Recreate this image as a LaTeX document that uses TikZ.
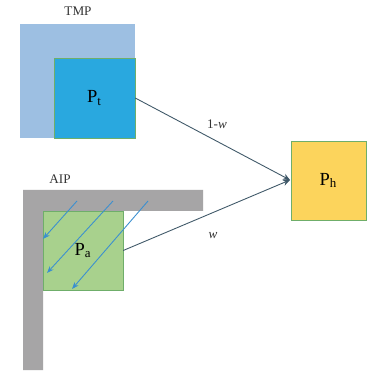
\documentclass[tikz,border=0pt]{standalone}
\usepackage{fontspec}
\setmainfont{Liberation Serif}
\usetikzlibrary{arrows.meta}
\definecolor{tmpblue}{HTML}{9DBFE2}
\definecolor{ptblue}{HTML}{29A8DF}
\definecolor{pagreen}{HTML}{A8D18D}
\definecolor{phyellow}{HTML}{FCD45C}
\definecolor{aipgray}{HTML}{A6A5A6}
\definecolor{arrblue}{HTML}{3A8FD0}
\definecolor{linec}{HTML}{3F5868}
\definecolor{edgegreen}{HTML}{6FAE6A}
\begin{document}
\begin{tikzpicture}[x=0.02cm,y=-0.02cm,
  lbl/.style={font=\fontsize{7.5}{9}\selectfont, text=black!80},
  plbl/.style={font=\fontsize{10.5}{12}\selectfont},
  box/.style={draw=edgegreen, line width=0.25pt, inner sep=0, plbl},
  conn/.style={draw=linec, line width=0.5pt},
  hatch/.style={draw=arrblue, line width=0.5pt, -{Stealth[length=4pt,width=3pt]}}]
\useasboundingbox (0,0) rectangle (366,374);
\fill[white] (0,0) rectangle (366,374);
% TMP
\fill[tmpblue] (20,24) rectangle (135,138);
\node[lbl] (tmp) at (78,11) {TMP};
\node[box, fill=ptblue, minimum width=81*0.02cm, minimum height=80*0.02cm] (pt) at (94.5,98) {P\textsubscript{t}};
% AIP
\fill[aipgray] (23,190) -- (203,190) -- (203,211) -- (43,211) -- (43,370) -- (23,370) -- cycle;
\node[lbl] (aip) at (60,179) {AIP};
\node[box, fill=pagreen, minimum width=80*0.02cm, minimum height=79*0.02cm] (pa) at (83,250.5) {P\textsubscript{a}};
\coordinate (h1s) at (77,201); \coordinate (h1e) at (43,239);
\coordinate (h2s) at (113,201); \coordinate (h2e) at (47,273);
\coordinate (h3s) at (148,201); \coordinate (h3e) at (72,289);
\draw[hatch] (h1s) -- (h1e);
\draw[hatch] (h2s) -- (h2e);
\draw[hatch] (h3s) -- (h3e);
% Ph
\node[box, fill=phyellow, minimum width=75*0.02cm, minimum height=79*0.02cm] (ph) at (328.5,180.5) {P\textsubscript{h}};
\coordinate (tip) at (290,180);
\draw[conn, -{Stealth[length=4pt,width=3.5pt]}] (pt.east) -- (tip);
\draw[conn, -{Stealth[length=4pt,width=3.5pt]}] (pa.east) -- (tip);
\node[lbl] (lw1) at (217,124) {1-\textit{w}};
\node[lbl] (lw2) at (213,236) {\textit{w}};
\end{tikzpicture}
\end{document}
